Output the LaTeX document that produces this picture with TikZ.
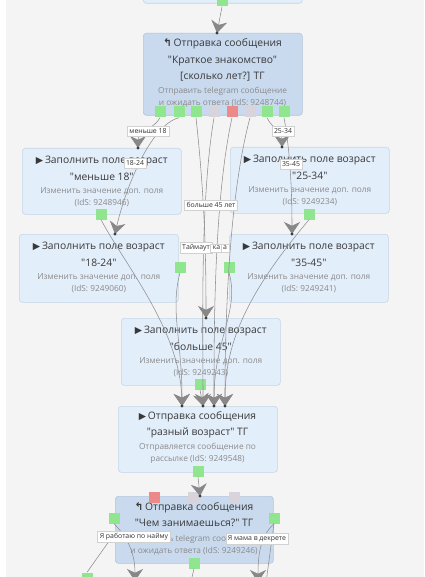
\documentclass[tikz,border=0pt]{standalone}
\usepackage{fontspec}
\setmainfont{Open Sans}
\newfontfamily\symf{DejaVu Sans}
\usetikzlibrary{arrows.meta}
\definecolor{bg}{HTML}{F4F4F4}
\definecolor{lfill}{HTML}{E3EEFB}
\definecolor{ldraw}{HTML}{C6D5E7}
\definecolor{dfill}{HTML}{C9DAEF}
\definecolor{ddraw}{HTML}{B4C5DB}
\definecolor{ttlc}{HTML}{383838}
\definecolor{subc}{HTML}{8A8A8A}
\definecolor{pgreen}{HTML}{90E68E}
\definecolor{pgray}{HTML}{D9D4DB}
\definecolor{pred}{HTML}{EC8A8A}
\definecolor{linec}{HTML}{8E8E8E}
\definecolor{arrc}{HTML}{888888}
\definecolor{dotc}{HTML}{3C3C3C}
\tikzset{
  lbox/.style={draw=ldraw, fill=lfill, rounded corners=3pt, line width=0.6pt, inner sep=0pt, anchor=north west},
  dbox/.style={draw=ddraw, fill=dfill, rounded corners=3pt, line width=0.6pt, inner sep=0pt, anchor=north west},
  ttl/.style={text=ttlc, font=\fontsize{10.3}{11}\selectfont, inner sep=0pt},
  sub/.style={text=subc, font=\fontsize{8.3}{9}\selectfont, inner sep=0pt},
  port/.style={minimum width=11pt, minimum height=11pt, inner sep=0pt, draw=none},
  gport/.style={port, fill=pgreen},
  yport/.style={port, fill=pgray},
  rport/.style={port, fill=pred},
  conn/.style={draw=linec, line width=0.55pt},
  arr/.style={conn, -{Stealth[length=12pt, width=16pt, inset=3.8pt, fill=arrc, color=arrc]}},
  lbl/.style={fill=white, draw=black!18, line width=0.4pt, inner sep=2.2pt, text=black!80, font=\fontsize{6.9}{7.5}\selectfont},
}
\newcommand\qq{\textquotedbl}
\newcommand\playicon{{\symf\fontsize{9.5}{9.5}\selectfont ▶}\,}
\newcommand\replyicon{{\symf\bfseries\fontsize{10.5}{10.5}\selectfont ↰}\,}
\newcommand\agebox[7]{%
  \node[lbox, minimum width=159pt, minimum height=#4pt] (#1) at (#2,#3) {};
  \node[ttl] (#1t1) at ([yshift=-13pt]#1.north) {\playicon Заполнить поле возраст};
  \node[ttl] (#1t2) at ([yshift=-28.5pt]#1.north) {\qq#5\qq};
  \node[sub] (#1t3) at ([yshift=-43.5pt]#1.north) {Изменить значение доп. поля};
  \node[sub] (#1t4) at ([yshift=-55pt]#1.north) {(IdS: #6)};
}
\begin{document}
\begin{tikzpicture}[x=1pt,y=-1pt]
\useasboundingbox (0,0) rectangle (424,577);
\clip (0,0) rectangle (424,577);
\fill[bg] (0,0) rectangle (424,577);
\fill[white] (0,0) rectangle (6,577);

% ---------- boxes ----------
\node[lbox, minimum width=159pt, minimum height=30pt] (top0) at (143,-27) {};
\node[dbox, minimum width=159pt, minimum height=82pt] (n1) at (143,33) {};
\node[ttl] (n1t1) at (222.5,44) {\replyicon Отправка сообщения};
\node[ttl] (n1t2) at (222.5,61) {\qq Краткое знакомство\qq};
\node[ttl] (n1t3) at (222.5,77) {[сколько лет?] ТГ};
\node[sub] (n1t4) at (222.5,91) {Отправить telegram сообщение};
\node[sub] (n1t5) at (222.5,103) {и ожидать ответа (IdS: 9248744)};

\agebox{m18}{22}{148}{66}{меньше 18}{9248946}{}
\agebox{b2534}{230}{147}{66}{25-34}{9249234}{}
\agebox{b1824}{19}{234}{68}{18-24}{9249060}{}
\agebox{b3545}{229}{234}{68}{35-45}{9249241}{}
\agebox{b45}{121}{318}{67}{больше 45}{9249243}{}

\node[lbox, minimum width=159pt, minimum height=66pt] (diff) at (118,406) {};
\node[ttl] (dt1) at (197.5,417) {\playicon Отправка сообщения};
\node[ttl] (dt2) at (197.5,433) {\qq разный возраст\qq\ ТГ};
\node[sub] (dt3) at (197.5,447) {Отправляется сообщение по};
\node[sub] (dt4) at (197.5,459) {рассылке (IdS: 9249548)};

\node[dbox, minimum width=158pt, minimum height=67pt] (job) at (115,496) {};
\node[ttl] (jt1) at (194,508) {\replyicon Отправка сообщения};
\node[ttl] (jt2) at (194,523) {\qq Чем занимаешься?\qq\ ТГ};
\node[sub] (jt3) at (194,539) {Отправить telegram сообщение};
\node[sub] (jt4) at (194,551) {и ожидать ответа (IdS: 9249246)};

% ---------- ports ----------
\node[gport] (top0p) at (222,1) {};
\node[gport] (p1) at (160,112) {};
\node[gport] (p2) at (179,112) {};
\node[gport] (p3) at (196,112) {};
\node[yport] (p4) at (214,112) {};
\node[rport] (p5) at (232,112) {};
\node[yport] (p6) at (250,112) {};
\node[gport] (p7) at (267,112) {};
\node[gport] (p8) at (284,112) {};
\node[gport] (m18p) at (101,214) {};
\node[gport] (b2534p) at (309,214) {};
\node[gport] (b1824p) at (180,267) {};
\node[gport] (b3545p) at (229,267) {};
\node[gport] (b45p) at (200,384) {};
\node[gport] (diffp) at (198,471) {};
\node[rport] (jobr) at (154,497) {};
\node[yport] (jobg1) at (193,497) {};
\node[yport] (jobg2) at (234,497) {};
\node[gport] (jobL) at (114,518) {};
\node[gport] (jobR) at (274,518) {};
\node[gport] (jobB) at (194,563) {};
\node[gport] (extra) at (87,578) {};

% ---------- target coordinates ----------
\coordinate (tn1) at (217,33);
\coordinate (tm18) at (138,148);
\coordinate (t2534) at (282,147);
\coordinate (t1824) at (115,234);
\coordinate (t3545) at (292,234);
\coordinate (t45) at (206,318);
\coordinate (td1) at (182,406);
\coordinate (td2) at (203,406);
\coordinate (td3) at (214,406);
\coordinate (td4) at (225,406);
\coordinate (tjob) at (200,496);
\coordinate (o1) at (135,581);
\coordinate (o2) at (258,582);
\coordinate (o3) at (265,590);
\coordinate (o4) at (189,590);
\coordinate (ex) at (112,537);

% ---------- connectors ----------
\draw[arr] (top0p.south) -- (tn1);
\draw[arr] (p1.south) .. controls (155,128) and (138,132) .. (tm18);
\draw[arr] (p2.south) .. controls (150,125) and (125,190) .. (t1824);
\draw[arr] (p7.south) .. controls (272,128) and (282,132) .. (t2534);
\draw[arr] (p8.south) .. controls (290,150) and (292,190) .. (t3545);
\draw[arr] (p3.south) .. controls (205,200) and (206,260) .. (t45);
\draw[arr] (p4.south) .. controls (200,200) and (203,330) .. (td2);
\draw[arr] (p5.south) .. controls (214,200) and (214,330) .. (td3);
\draw[arr] (p6.south) .. controls (228,200) and (225,330) .. (td4);
\draw[arr] (m18p.south) .. controls (125,265) and (180,330) .. (td1);
\draw[arr] (b1824p.south) .. controls (170,310) and (182,340) .. (td1);
\draw[arr] (b2534p.south) .. controls (250,290) and (225,340) .. (td4);
\draw[arr] (b3545p.south) .. controls (240,310) and (214,340) .. (td3);
\draw[arr] (b45p.south) -- (td2);
\draw[arr] (diffp.south) -- (tjob);
\draw[arr] (jobL.south) .. controls (125,535) and (135,550) .. (o1);
\draw[conn] (extra.north) -- (ex);
\draw[arr] (jobR.south) .. controls (262,535) and (258,550) .. (o2);
\draw[conn] (jobR.south) -- (o3);
\draw[conn] (jobB.south) -- (o4);

\foreach \c in {tn1,tm18,t2534,t1824,t3545,t45,td1,td2,td3,td4,tjob}
  \fill[dotc] (\c) circle (1.6pt);

% ---------- labels ----------
\node[lbl] (l1) at (148,131) {меньше 18};
\node[lbl] (l2) at (283,131) {25-34};
\node[lbl] (l3) at (135,163) {18-24};
\node[lbl] (l4) at (291,164) {35-45};
\node[lbl] (l5) at (211,205) {больше 45 лет};
\node[lbl] (l6) at (196,248) {Таймаут};
\node[lbl] (l7) at (216.5,248) {ка};
\node[lbl] (l8) at (225,248) {а};
\node[lbl] (l9) at (134,537) {Я работаю по найму};
\node[lbl] (l10) at (257,539) {Я мама в декрете};
\end{tikzpicture}
\end{document}
